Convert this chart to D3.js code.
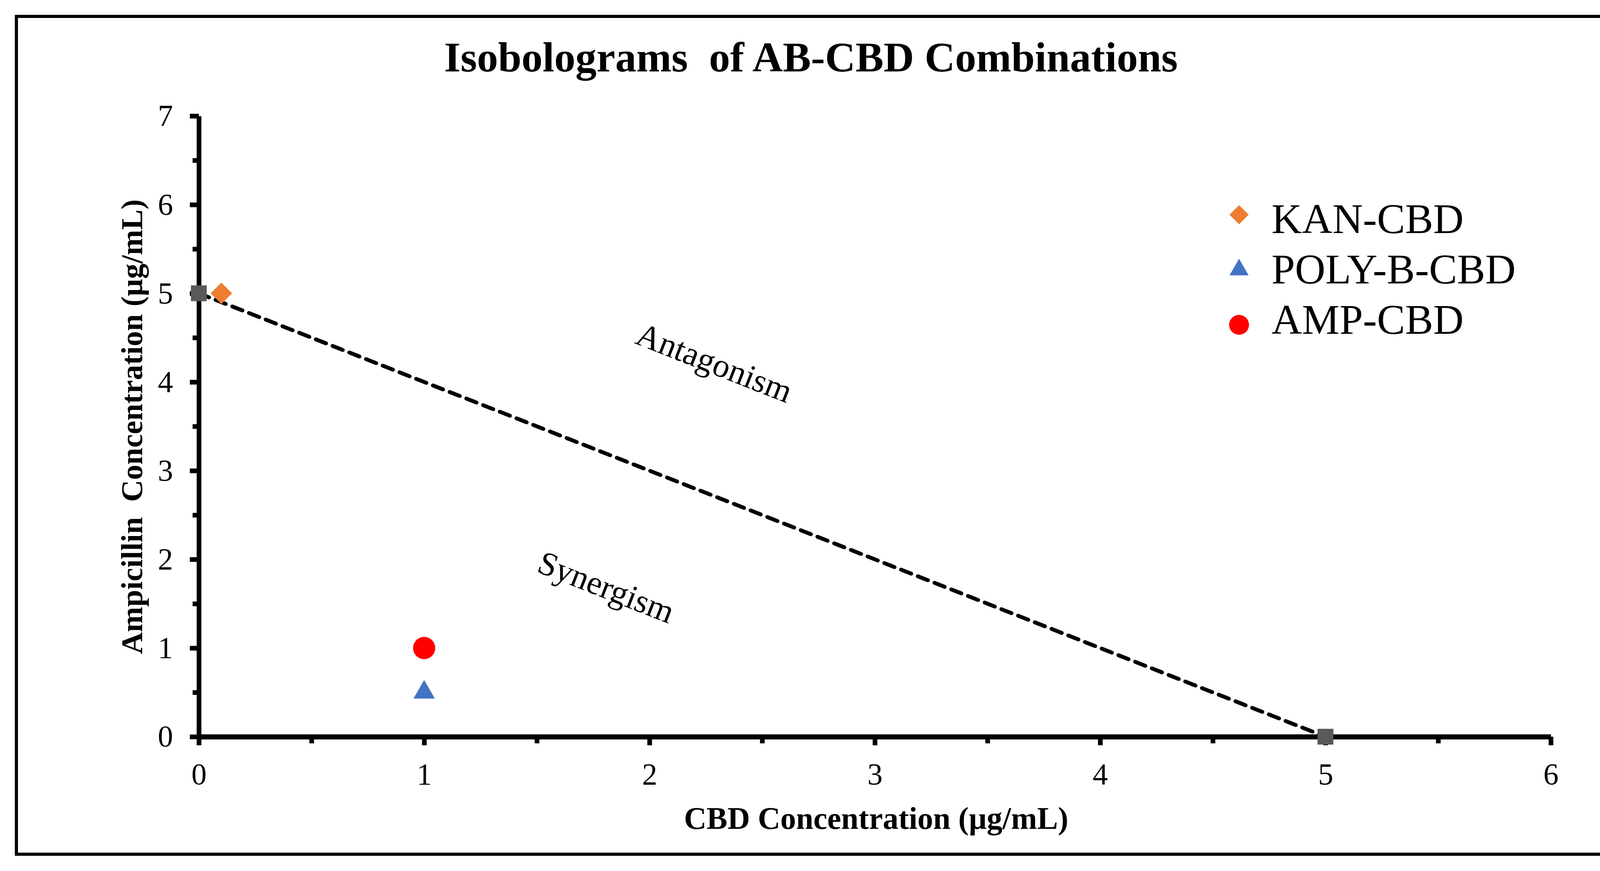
<!DOCTYPE html>
<html>
<head>
<meta charset="utf-8">
<script src="https://cdn.jsdelivr.net/npm/d3@7"></script>
<style>
  html, body { margin: 0; padding: 0; background: #fff; overflow: hidden; }
  svg { display: block; }
  text { font-family: "Liberation Serif", "Times New Roman", serif; fill: #000; }
</style>
</head>
<body>
<script>
// data
var seriesNames = ["KAN-CBD", "POLY-B-CBD", "AMP-CBD"];
var seriesX = [0.1, 1, 1];
var seriesY = [5, 0.5, 1];

// line of additivity (isobole)
var isoboleX = [0, 5];
var isoboleY = [5, 0];

var xTicks = [0, 1, 2, 3, 4, 5, 6];
var yTicks = [0, 1, 2, 3, 4, 5, 6, 7];
var xMinor = [0.5, 1.5, 2.5, 3.5, 4.5, 5.5];
var yMinor = [0.5, 1.5, 2.5, 3.5, 4.5, 5.5, 6.5];

var regionLabels = ["Antagonism", "Synergism"];
var regionX = [2.27, 1.79];
var regionY = [4.1, 1.57];

// styles
var seriesColors = ["#ED7D31", "#4472C4", "#FF0000"];
var seriesSymbols = [d3.symbolSquare, d3.symbolTriangle, d3.symbolCircle];
var seriesSizes = [1500, 1300, 2550];
var seriesRotate = [45, 0, 0];

var W = 4228, H = 2231;

var svg = d3.select("body").append("svg")
  .attr("width", W)
  .attr("height", H);

svg.append("rect")
  .attr("x", 0).attr("y", 0)
  .attr("width", W).attr("height", H)
  .attr("fill", "#ffffff");

// outer frame
svg.append("rect")
  .attr("x", 42).attr("y", 42)
  .attr("width", 4140).attr("height", 2146)
  .attr("fill", "none")
  .attr("stroke", "#000")
  .attr("stroke-width", 8);

var x = d3.scaleLinear().domain([0, 6]).range([509, 3970]);
var y = d3.scaleLinear().domain([0, 7]).range([1887, 297]);

// title
svg.append("text")
  .attr("x", 2076)
  .attr("y", 183)
  .attr("text-anchor", "middle")
  .attr("font-size", 108)
  .attr("font-weight", "bold")
  .attr("xml:space", "preserve")
  .text("Isobolograms  of AB-CBD Combinations");

// minor ticks first, major axes on top
var xMinorAxis = d3.axisBottom(x).tickValues(xMinor).tickSize(17).tickSizeOuter(0).tickFormat("");
var yMinorAxis = d3.axisLeft(y).tickValues(yMinor).tickSize(16).tickSizeOuter(0).tickFormat("");

var gxm = svg.append("g").attr("transform", "translate(0," + y(0) + ")").call(xMinorAxis);
var gym = svg.append("g").attr("transform", "translate(" + x(0) + ",0)").call(yMinorAxis);
gxm.select(".domain").remove();
gym.select(".domain").remove();
gxm.selectAll(".tick line").attr("stroke", "#000").attr("stroke-width", 12);
gym.selectAll(".tick line").attr("stroke", "#000").attr("stroke-width", 12);

var xAxis = d3.axisBottom(x).tickValues(xTicks).tickSize(22).tickSizeOuter(0).tickPadding(45).tickFormat(d3.format("d"));
var yAxis = d3.axisLeft(y).tickValues(yTicks).tickSize(23).tickSizeOuter(0).tickPadding(43).tickFormat(d3.format("d"));

var gy = svg.append("g").attr("transform", "translate(" + x(0) + ",0)").call(yAxis);
var gx = svg.append("g").attr("transform", "translate(0," + y(0) + ")").call(xAxis);

gy.select(".domain").attr("stroke", "#000").attr("stroke-width", 12);
gx.select(".domain").attr("stroke", "#000").attr("stroke-width", 13);
gx.selectAll(".tick line").attr("stroke", "#000").attr("stroke-width", 12);
gy.selectAll(".tick line").attr("stroke", "#000").attr("stroke-width", 12);
gx.selectAll(".tick text").attr("font-size", 78).attr("font-family", "Liberation Serif, Times New Roman, serif");
gy.selectAll(".tick text").attr("font-size", 78).attr("font-family", "Liberation Serif, Times New Roman, serif");

// axis titles
svg.append("text")
  .attr("x", 2243)
  .attr("y", 2123)
  .attr("text-anchor", "middle")
  .attr("font-size", 80)
  .attr("font-weight", "bold")
  .text("CBD Concentration (\u00b5g/mL)");

svg.append("text")
  .attr("transform", "translate(364,1093) rotate(-90)")
  .attr("text-anchor", "middle")
  .attr("font-size", 78)
  .attr("font-weight", "bold")
  .attr("xml:space", "preserve")
  .text("Ampicillin  Concentration (\u00b5g/mL)");

// isobole
var isobole = isoboleX.map(function(d, i){ return {x: d, y: isoboleY[i]}; });

svg.append("path")
  .datum(isobole)
  .attr("fill", "none")
  .attr("stroke", "#000")
  .attr("stroke-width", 10)
  .attr("stroke-dasharray", "28,18")
  .attr("stroke-linecap", "round")
  .attr("d", d3.line().x(function(d){ return x(d.x); }).y(function(d){ return y(d.y); }));

svg.selectAll(".isopt").data(isobole).enter()
  .append("path")
  .classed("isopt", true)
  .attr("transform", function(d){ return "translate(" + x(d.x) + "," + y(d.y) + ")"; })
  .attr("d", d3.symbol().type(d3.symbolSquare).size(1650))
  .attr("fill", "#595959");

// series points
var points = seriesNames.map(function(n, i){ return {name: n, x: seriesX[i], y: seriesY[i], i: i}; });

svg.selectAll(".pt").data(points).enter()
  .append("path")
  .classed("pt", true)
  .attr("transform", function(d){
    return "translate(" + x(d.x) + "," + y(d.y) + ") rotate(" + seriesRotate[d.i] + ")";
  })
  .attr("d", function(d){ return d3.symbol().type(seriesSymbols[d.i]).size(seriesSizes[d.i])(); })
  .attr("fill", function(d){ return seriesColors[d.i]; });

// region labels
svg.selectAll(".region").data(regionLabels).enter()
  .append("text")
  .classed("region", true)
  .attr("transform", function(d, i){
    return "translate(" + x(regionX[i]) + "," + y(regionY[i]) + ") rotate(21.5)";
  })
  .attr("text-anchor", "middle")
  .attr("font-size", 86)
  .text(function(d){ return d; });

// legend: markers and labels sit on slightly different spacings
var legend = svg.selectAll(".legend").data(points).enter()
  .append("g")
  .classed("legend", true);

legend.append("path")
  .attr("transform", function(d, i){
    return "translate(3172," + (550 + i * 141) + ") rotate(" + seriesRotate[d.i] + ")";
  })
  .attr("d", function(d){ return d3.symbol().type(seriesSymbols[d.i]).size(seriesSizes[d.i] * 0.8)(); })
  .attr("fill", function(d){ return seriesColors[d.i]; });

legend.append("text")
  .attr("x", 3255)
  .attr("y", function(d, i){ return 597 + i * 129; })
  .attr("font-size", 108)
  .text(function(d){ return d.name; });
</script>
</body>
</html>
